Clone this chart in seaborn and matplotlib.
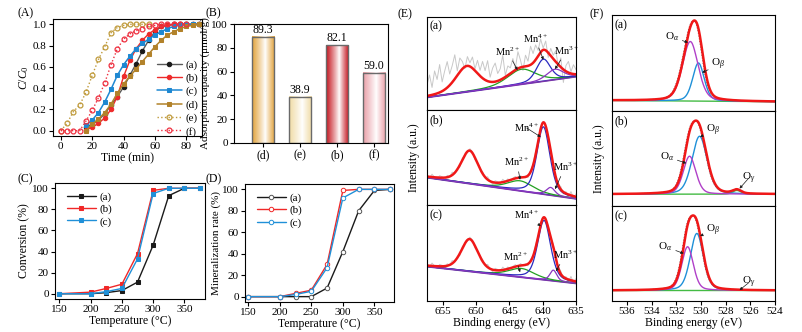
import numpy as np
import pandas as pd
import matplotlib
matplotlib.use("Agg")
import matplotlib.pyplot as plt
import matplotlib.colors as mcolors
import seaborn as sns

sns.set_theme(style="ticks")
plt.rcParams["font.family"] = ["Liberation Serif", "DejaVu Serif"]
plt.rcParams.update({
    "mathtext.fontset": "custom", "mathtext.rm": "Liberation Serif",
    "mathtext.it": "Liberation Serif:italic", "mathtext.bf": "Liberation Serif:bold",
    "font.size": 8, "axes.linewidth": 0.8,
    "xtick.major.width": 0.8, "ytick.major.width": 0.8,
    "xtick.major.size": 3, "ytick.major.size": 3,
    "xtick.major.pad": 1.5, "ytick.major.pad": 1.5,
    "xtick.labelsize": 8, "ytick.labelsize": 8, "axes.labelsize": 8.5,
    "axes.edgecolor": "black", "xtick.color": "black", "ytick.color": "black",
    "axes.labelcolor": "black", "text.color": "black", "axes.labelpad": 1.5,
})

# ---------------- data ----------------
# (A) breakthrough curves
TIME_ABCD = [16, 20, 24, 28, 32, 36, 40, 44, 48, 52, 56, 60, 64, 68, 72, 76, 80, 84, 88]
A_a = [0.03, 0.06, 0.10, 0.16, 0.24, 0.32, 0.41, 0.52, 0.63, 0.75, 0.85, 0.93, 0.98, 0.99, 1.0, 1.0, 1.0, 1.0, 1.0]
A_b = [0.01, 0.03, 0.07, 0.12, 0.20, 0.32, 0.51, 0.66, 0.77, 0.85, 0.91, 0.95, 0.98, 0.99, 1.0, 1.0, 1.0, 1.0, 1.0]
A_c = [0.05, 0.10, 0.17, 0.27, 0.39, 0.52, 0.62, 0.70, 0.77, 0.82, 0.86, 0.90, 0.93, 0.96, 0.98, 0.99, 1.0, 1.0, 1.0]
A_d = [0.0, 0.06, 0.11, 0.17, 0.25, 0.35, 0.44, 0.51, 0.58, 0.65, 0.72, 0.79, 0.85, 0.90, 0.93, 0.96, 0.98, 0.99, 1.0]
TIME_E = [0, 4, 8, 12, 16, 20, 24, 28, 32, 36, 40, 44, 48, 52, 56]
A_e = [0.0, 0.07, 0.18, 0.24, 0.36, 0.52, 0.67, 0.79, 0.92, 0.97, 0.99, 1.0, 1.0, 1.0, 1.0]
TIME_F = [0, 4, 8, 12, 16, 20, 24, 28, 32, 36, 40, 44, 48, 52, 56, 60, 64, 68, 72, 76, 80]
A_f = [0.0, 0.0, 0.0, 0.0, 0.09, 0.19, 0.31, 0.45, 0.62, 0.77, 0.86, 0.91, 0.94, 0.96, 0.98, 0.99, 1.0, 1.0, 1.0, 1.0, 1.0]

# (B) adsorption capacity
B_CATS = ["(d)", "(e)", "(b)", "(f)"]
B_VALUES = [89.3, 38.9, 82.1, 59.0]
B_COLORS = ["#E2A23A", "#F0DBA4", "#C4121C", "#EAA0A8"]

# (C) conversion, (D) mineralization
TEMPS = [150, 200, 225, 250, 275, 300, 325, 350, 375]
C_a = [0, 0, 1, 3, 11, 46, 93, 100, 100]
C_b = [0, 1.5, 5, 9, 38, 98, 100, 100, 100]
C_c = [0, 0, 2, 5, 33, 95, 100, 100, 100]
D_a = [0, 0, 0, 0, 8, 42, 80, 99, 100]
D_b = [0, 0, 3, 6, 30, 99, 100, 100, 100]
D_c = [0, 0, 2, 5, 27, 92, 100, 100, 100]

# (E) Mn 2p fitted peaks: one value per sub-panel (a), (b), (c)
E_BASE_LEFT = [0.137, 0.29, 0.36]
E_BASE_RIGHT = [0.36, 0.067, 0.185]
MN4_CENTER = [639.9, 639.9, 639.8]; MN4_HEIGHT = [0.236, 0.707, 0.617]; MN4_FWHM = [2.5, 2.3, 2.3]
MN3_CENTER = [638.15, 638.8, 638.4]; MN3_HEIGHT = [0.11, 0.08, 0.11]; MN3_FWHM = [3.0, 1.5, 1.2]
MN2_CENTER = [643.2, 643.4, 643.2]; MN2_HEIGHT = [0.16, 0.104, 0.09]; MN2_FWHM = [5.0, 4.5, 4.5]
P12_CENTER = [651.4, 651.0, 651.0]; P12_HEIGHT = [0.27, 0.34, 0.33]; P12_FWHM = [4.0, 3.0, 3.0]
# residual of raw spectrum around the fit (read by eye)
NOISE_A = [0.12, 0.22, 0.08, 0.25, 0.15, 0.30, 0.10, 0.20, 0.28, 0.12, 0.18, 0.26, 0.05, 0.15,
           0.08, -0.02, 0.10, 0.04, 0.12, 0.02, 0.14,
           0.06, 0.18, 0.10, 0.22, 0.05, 0.15, 0.20, 0.08, 0.12, 0.25, 0.02, 0.10, 0.06,
           0.14, 0.02, 0.18, 0.08, -0.04, 0.12, 0.05, 0.20, 0.10, 0.16, 0.06, 0.14,
           0.02, 0.10, -0.05, 0.08, 0.04, 0.12, -0.02, 0.10, -0.14, 0.06, 0.12, 0.02, 0.10, 0.05]
NOISE_BC = [0.02, -0.01, 0.03, 0.00, -0.02, 0.02, 0.01, -0.03, 0.02, 0.00, 0.03, -0.01, 0.01, -0.02,
            0.02, 0.00, -0.01, 0.02, 0.01, -0.02, 0.01,
            0.00, 0.02, -0.01, 0.03, 0.00, -0.02, 0.02, 0.01, -0.01, 0.03, 0.00, 0.02, -0.01,
            0.01, 0.02, -0.01, 0.02, 0.00, 0.01, -0.02, 0.02, 0.01, 0.03, 0.00, 0.02,
            0.01, -0.01, 0.02, 0.00, 0.02, -0.02, 0.01, 0.03, -0.02, 0.02, -0.03, 0.04, -0.02, 0.03]
E_ANN = [
    [("Mn$^{2+}$", 645.3, 0.63, 643.8, 0.43), ("Mn$^{4+}$", 641.15, 0.77, 639.9, 0.54), ("Mn$^{3+}$", 636.4, 0.64, 638.15, 0.44)],
    [("Mn$^{4+}$", 642.4, 0.81, 640.3, 0.716), ("Mn$^{2+}$", 643.9, 0.45, 643.4, 0.266), ("Mn$^{3+}$", 636.65, 0.40, 638.15, 0.167)],
    [("Mn$^{4+}$", 642.4, 0.895, 640.3, 0.78), ("Mn$^{2+}$", 644.15, 0.465, 643.4, 0.30), ("Mn$^{3+}$", 636.65, 0.48, 638.0, 0.31)],
]

# (F) O 1s fitted peaks
F_BASE_LEFT = [0.11, 0.124, 0.111]
F_BASE_RIGHT = [0.097, 0.124, 0.111]
OA_CENTER = [530.86, 530.92, 531.08]; OA_HEIGHT = [0.62, 0.40, 0.46]; OA_FWHM = [1.5, 1.2, 1.1]
OB_CENTER = [530.20, 530.11, 530.33]; OB_HEIGHT = [0.397, 0.61, 0.60]; OB_FWHM = [1.1, 1.45, 1.25]
OG_CENTER = [527.0, 527.09, 527.0]; OG_HEIGHT = [0.0, 0.04, 0.0]; OG_FWHM = [0.8, 0.8, 0.8]
F_ANN = [
    [(r"O$_{\alpha}$", 532.35, 0.77, 531.05, 0.714), (r"O$_{\beta}$", 528.58, 0.48, 529.9, 0.40)],
    [(r"O$_{\beta}$", 529.03, 0.80, 530.06, 0.727), (r"O$_{\alpha}$", 532.75, 0.52, 531.19, 0.45), (r"O$_{\gamma}$", 526.15, 0.29, 526.87, 0.184)],
    [(r"O$_{\beta}$", 529.03, 0.746, 530.06, 0.684), (r"O$_{\alpha}$", 532.88, 0.573, 531.4, 0.50), (r"O$_{\gamma}$", 526.15, 0.19, 526.87, 0.115)],
]
SUB_LABELS = ["(a)", "(b)", "(c)"]

# ---------------- figure ----------------
W, H = 803, 332
fig = plt.figure(figsize=(W / 100, H / 100), dpi=100)


def add_ax(l, t, r, b):
    return fig.add_axes([l / W, 1 - b / H, (r - l) / W, (b - t) / H])


def pv(x, c, h, w, eta):
    u = ((x - c) / w) ** 2
    return h * (eta / (1 + 4 * u) + (1 - eta) * np.exp(-4 * np.log(2) * u))


def line(ax, x, y, color, **kw):
    sns.lineplot(x=x, y=y, ax=ax, color=color, estimator=None, sort=False, **kw)


# ---- (A)
ax = add_ax(53, 19, 202, 136)
line(ax, TIME_ABCD, A_a, "#5a5a5a", marker="o", ms=3.2, mfc="k", mec="k", lw=1, label="(a)")
line(ax, TIME_ABCD, A_b, "#EE2A2A", marker="o", ms=3.2, mec="#EE2A2A", lw=1, label="(b)")
line(ax, TIME_ABCD, A_c, "#1E88D2", marker="s", ms=3.0, mec="#1E88D2", lw=1.1, label="(c)")
line(ax, TIME_ABCD, A_d, "#B2822A", marker="s", ms=3.0, mec="#B2822A", lw=1.1, label="(d)")
line(ax, TIME_E, A_e, "#C09B3C", marker="o", ms=3.5, mfc="none", mec="#C09B3C", mew=0.9, lw=1, ls=":", label="(e)")
line(ax, TIME_F, A_f, "#EE3040", marker="o", ms=3.5, mfc="none", mec="#EE3040", mew=0.9, lw=1, ls=":", label="(f)")
ax.set_xlim(-5, 90)
ax.set_ylim(-0.05, 1.05)
ax.set_xticks([0, 20, 40, 60, 80])
ax.set_yticks([0, 0.2, 0.4, 0.6, 0.8, 1.0])
ax.set_yticklabels(["0.0", "0.2", "0.4", "0.6", "0.8", "1.0"])
ax.set_xlabel("Time (min)", labelpad=0.5)
ax.set_ylabel(r"$C/C_0$", labelpad=1)
ax.legend(loc="upper left", bbox_to_anchor=(0.67, 0.69), frameon=False, fontsize=8,
          handlelength=2.2, handletextpad=0.3, labelspacing=0.3, borderaxespad=0)

# ---- (B)
ax = add_ax(234, 24, 388, 143)
sns.barplot(x=B_CATS, y=B_VALUES, hue=B_CATS, palette=B_COLORS, legend=False, ax=ax,
            width=0.6, edgecolor="#6a6a6a", linewidth=1.0)
t = np.linspace(0, 1, 256)
wgt = np.clip(np.abs(t - 0.58) / np.where(t < 0.58, 0.58, 0.42), 0, 1) ** 0.9
for patch, col in zip(ax.patches, B_COLORS):
    x0, y0, w, h = patch.get_x(), patch.get_y(), patch.get_width(), patch.get_height()
    rgb = np.array(mcolors.to_rgb(col))
    img = (1 - wgt)[:, None] * np.ones(3) + wgt[:, None] * rgb
    ax.imshow(img[None, :, :], extent=[x0, x0 + w, y0, y0 + h], aspect="auto",
              zorder=patch.get_zorder() - 0.1, interpolation="bilinear")
    patch.set_facecolor("none")
for i, v in enumerate(B_VALUES):
    ax.text(i, v + 0.8, f"{v:.1f}", ha="center", va="bottom", fontsize=8.5)
ax.set_xlim(-0.78, 3.38)
ax.set_ylim(0, 100)
ax.set_yticks([0, 20, 40, 60, 80, 100])
ax.set_ylabel("Adsorption capacity (μmol/g)", labelpad=1, fontsize=8)
ax.tick_params(axis="x", labelsize=8.5)

# ---- (C)
ax = add_ax(55, 183, 205, 299)
line(ax, TEMPS, C_a, "k", marker="s", ms=2.8, mec="k", lw=1, label="(a)")
line(ax, TEMPS, C_b, "#F02828", marker="s", ms=2.8, mec="#F02828", lw=1, label="(b)")
line(ax, TEMPS, C_c, "#2090D8", marker="s", ms=2.8, mec="#2090D8", lw=1, label="(c)")
ax.set_xlim(143, 383)
ax.set_ylim(-5, 105)
ax.set_xticks([150, 200, 250, 300, 350])
ax.set_yticks([0, 20, 40, 60, 80, 100])
ax.set_xlabel("Temperature (°C)", labelpad=0.5)
ax.set_ylabel("Conversion (%)", labelpad=1)
ax.legend(loc="upper left", bbox_to_anchor=(0.05, 0.96), frameon=False, fontsize=8,
          handlelength=2.6, handletextpad=0.3, labelspacing=0.2, borderaxespad=0)

# ---- (D)
ax = add_ax(245, 184, 394, 302)
line(ax, TEMPS, D_a, "k", marker="o", ms=3.2, mfc="white", mec="#555555", mew=0.7, lw=1, label="(a)")
line(ax, TEMPS, D_b, "#F02828", marker="o", ms=3.2, mfc="white", mec="#F02828", mew=0.7, lw=1, label="(b)")
line(ax, TEMPS, D_c, "#2090D8", marker="o", ms=3.2, mfc="white", mec="#2090D8", mew=0.7, lw=1, label="(c)")
ax.set_xlim(145, 381)
ax.set_ylim(-5, 105)
ax.set_xticks([150, 200, 250, 300, 350])
ax.set_yticks([0, 20, 40, 60, 80, 100])
ax.set_xlabel("Temperature (°C)", labelpad=0.5)
ax.set_ylabel("Mineralization rate (%)", labelpad=1, fontsize=8)
ax.legend(loc="upper left", bbox_to_anchor=(0.05, 0.96), frameon=False, fontsize=8,
          handlelength=2.6, handletextpad=0.3, labelspacing=0.2, borderaxespad=0)

arrow_kw = dict(arrowstyle="-|>", color="k", lw=0.5, mutation_scale=4, shrinkA=0, shrinkB=0)

# ---- (E)
e_tops = [17, 110, 205]
e_bots = [110, 205, 301]
x_fit = np.linspace(657.4, 635.0, 500)
x_raw = np.linspace(657.4, 635.0, len(NOISE_A))
for i in range(3):
    ax = add_ax(427, e_tops[i], 576, e_bots[i])

    def base(x):
        return E_BASE_LEFT[i] + (E_BASE_RIGHT[i] - E_BASE_LEFT[i]) * (657.4 - x) / (657.4 - 635.0)

    def comps(x):
        return (pv(x, MN4_CENTER[i], MN4_HEIGHT[i], MN4_FWHM[i], 0.4),
                pv(x, MN3_CENTER[i], MN3_HEIGHT[i], MN3_FWHM[i], 0.4),
                pv(x, MN2_CENTER[i], MN2_HEIGHT[i], MN2_FWHM[i], 0.4),
                pv(x, P12_CENTER[i], P12_HEIGHT[i], P12_FWHM[i], 0.4))

    c4, c3, c2, c12 = comps(x_fit)
    b = base(x_fit)
    env = b + c4 + c3 + c2 + c12
    r4, r3, r2, r12 = comps(x_raw)
    noise = np.array(NOISE_A) if i == 0 else np.array(NOISE_BC)
    raw = base(x_raw) + r4 + r3 + r2 + r12 + noise
    line(ax, x_raw, raw, "#C8C8C8", lw=0.7)
    line(ax, [657.4, 635.0], [E_BASE_LEFT[i], E_BASE_RIGHT[i]], "#3030C0", lw=1.0)
    line(ax, [657.4, 635.0], [E_BASE_LEFT[i] - 0.004, E_BASE_RIGHT[i] - 0.004], "#7A35A8", lw=1.0)
    line(ax, x_fit, b + c2, "#22A022", lw=0.9)
    line(ax, x_fit, b + c4, "#2A2AC0", lw=0.9)
    line(ax, x_fit, b + c3, "#8A35C0", lw=0.9)
    line(ax, x_fit, env, "#F01818", lw=1.8)
    for (txt, tx, ty, px, py) in E_ANN[i]:
        ax.annotate(txt, xy=(px, py), xytext=(tx, ty), ha="center", va="center", fontsize=7.5,
                    arrowprops=arrow_kw)
    ax.text(0.015, 0.96, SUB_LABELS[i], transform=ax.transAxes, ha="left", va="top", fontsize=8.5)
    ax.set_xlim(657.4, 635.0)
    ax.set_ylim(0, 1)
    ax.set_yticks([])
    ax.set_xticks([655, 650, 645, 640, 635])
    if i < 2:
        ax.tick_params(axis="x", length=0, labelbottom=False)
    else:
        ax.set_xlabel("Binding energy (eV)", labelpad=0.5)
    if i == 1:
        ax.set_ylabel("Intensity (a.u.)", labelpad=5)

# ---- (F)
f_tops = [15, 111, 206]
f_bots = [111, 206, 301]
xf = np.linspace(537.2, 524.0, 500)
for i in range(3):
    ax = add_ax(612, f_tops[i], 775, f_bots[i])
    b = F_BASE_LEFT[i] + (F_BASE_RIGHT[i] - F_BASE_LEFT[i]) * (537.2 - xf) / (537.2 - 524.0)
    oa = pv(xf, OA_CENTER[i], OA_HEIGHT[i], OA_FWHM[i], 0.3)
    ob = pv(xf, OB_CENTER[i], OB_HEIGHT[i], OB_FWHM[i], 0.3)
    og = pv(xf, OG_CENTER[i], OG_HEIGHT[i], OG_FWHM[i], 0.3)
    env = b + oa + ob + og
    line(ax, xf + 0.08, env, "#707070", lw=0.8, ls=(0, (1, 1.5)))
    line(ax, xf, b + og, "#44BB44", lw=1.0)
    line(ax, xf, b + ob, "#1E90D8", lw=1.0)
    line(ax, xf, b + oa, "#B040C8", lw=1.0)
    line(ax, xf, env, "#F01818", lw=1.8)
    for (txt, tx, ty, px, py) in F_ANN[i]:
        ax.annotate(txt, xy=(px, py), xytext=(tx, ty), ha="center", va="center", fontsize=8,
                    arrowprops=arrow_kw)
    ax.text(0.015, 0.96, SUB_LABELS[i], transform=ax.transAxes, ha="left", va="top", fontsize=8.5)
    ax.set_xlim(537.2, 524.0)
    ax.set_ylim(0, 1)
    ax.set_yticks([])
    ax.set_xticks([536, 534, 532, 530, 528, 526, 524])
    if i < 2:
        ax.tick_params(axis="x", length=0, labelbottom=False)
    else:
        ax.set_xlabel("Binding energy (eV)", labelpad=0.5)
    if i == 1:
        ax.set_ylabel("Intensity (a.u.)", labelpad=5)

# panel letters
for txt, px, py in [("(A)", 17, 13), ("(B)", 206, 13), ("(C)", 17, 179),
                    ("(D)", 206, 179), ("(E)", 398, 14), ("(F)", 590, 14)]:
    fig.text(px / W, 1 - py / H, txt, ha="left", va="center", fontsize=8.5)

fig.savefig("out.png", dpi=100)
